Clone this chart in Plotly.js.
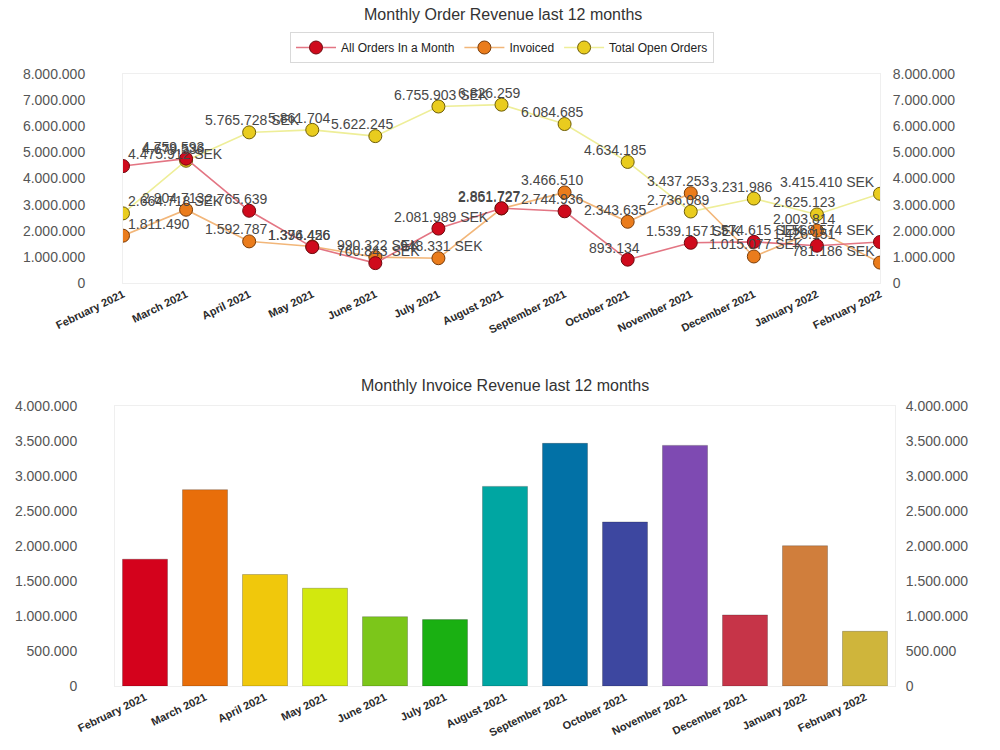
<!DOCTYPE html>
<html>
<head>
<meta charset="utf-8">
<script src="https://cdn.plot.ly/plotly-3.0.1.min.js"></script>
<style>
  html, body { margin: 0; padding: 0; background: #ffffff; }
  #chart { width: 1000px; height: 750px; }
</style>
</head>
<body>
<div id="chart"></div>
<script>
// Months covered by both charts
const months = ['February 2021', 'March 2021', 'April 2021', 'May 2021', 'June 2021', 'July 2021',
  'August 2021', 'September 2021', 'October 2021', 'November 2021', 'December 2021',
  'January 2022', 'February 2022'];

// Order revenue series (SEK)
const allOrders = [4475912, 4759593, 2765639, 1374456, 760843, 2081989, 2861727, 2744936,
  893134, 1539157, 1574615, 1426151, 1568574];
const invoiced = [1811490, 2804713, 1592787, 1396426, 990322, 948331, 2851727, 3466510,
  2343635, 3437253, 1015077, 2003814, 781186];
const openOrders = [2664718, 4679536, 5765728, 5861704, 5622245, 6755903, 6826259, 6084685,
  4634185, 2736089, 3231986, 2625123, 3415410];

// Which value labels carry the currency suffix
const allOrdersUnit = [1, 0, 0, 0, 1, 1, 0, 0, 0, 1, 1, 0, 1];
const invoicedUnit = [0, 0, 0, 0, 1, 1, 0, 0, 0, 0, 1, 0, 1];
const openOrdersUnit = [1, 0, 1, 0, 0, 1, 0, 0, 0, 0, 0, 0, 1];

// Bar colours for the invoice chart, one per month
const barColors = ['#d4021c', '#e86e0a', '#f0c80c', '#d2e80e', '#7cc61a', '#1ab012', '#00a6a2',
  '#0271a6', '#3d47a0', '#7e4ab2', '#c63448', '#d07e3c', '#cfb53b'];

const FONT = 'Liberation Sans, Arial, sans-serif';

function fmt(v) {
  return String(Math.round(v)).replace(/\B(?=(\d{3})+(?!\d))/g, '.');
}

// Listed in legend order; drawn in reverse so the order line sits on top
const series = [
  { name: 'All Orders In a Month', y: allOrders, unit: allOrdersUnit,
    line: '#e37583', fill: '#cf0a1c', edge: '#6e0a10' },
  { name: 'Invoiced', y: invoiced, unit: invoicedUnit,
    line: '#f2b679', fill: '#ea7c1c', edge: '#7a3c08' },
  { name: 'Total Open Orders', y: openOrders, unit: openOrdersUnit,
    line: '#eeee98', fill: '#e9cc1e', edge: '#6e5e08' }
];

const traces = series.slice().reverse().map(s => ({
  type: 'scatter',
  mode: 'lines+markers',
  name: s.name,
  x: months,
  y: s.y,
  xaxis: 'x',
  yaxis: 'y',
  line: { color: s.line, width: 1.6 },
  marker: { color: s.fill, size: 13, line: { color: s.edge, width: 1 } },
  cliponaxis: true
}));

// Duplicate right-hand value axis for the order chart
traces.push({
  type: 'scatter', mode: 'markers', x: [months[0]], y: [0], xaxis: 'x', yaxis: 'y2',
  marker: { opacity: 0 }, showlegend: false, hoverinfo: 'skip'
});

traces.push({
  type: 'bar',
  x: months,
  y: invoiced,
  xaxis: 'x2',
  yaxis: 'y3',
  marker: { color: barColors, line: { color: 'rgba(0,0,0,0.22)', width: 1 } },
  showlegend: false
});
traces.push({
  type: 'scatter', mode: 'markers', x: [months[0]], y: [0], xaxis: 'x2', yaxis: 'y4',
  marker: { opacity: 0 }, showlegend: false, hoverinfo: 'skip'
});

// Value labels above each point of the order chart
const annotations = [];
const last = months.length - 1;
series.forEach(s => {
  s.y.forEach((v, i) => {
    const withUnit = s.unit[i] === 1;
    const a = {
      xref: 'x', yref: 'y', x: months[i], y: v,
      text: fmt(v) + (withUnit ? ' SEK' : ''),
      showarrow: false,
      font: { family: FONT, size: 14, color: '#474747' },
      yanchor: 'middle', yshift: 12,
      xanchor: 'center', xshift: withUnit ? 3 : -13
    };
    if (i === 0) { a.xanchor = 'left'; a.xshift = 3; }
    if (i === last) { a.xanchor = 'right'; a.xshift = -3; }
    annotations.push(a);
  });
});

annotations.push({
  xref: 'paper', yref: 'paper', x: 0.503, y: 1 - 14 / 750, yanchor: 'middle',
  text: 'Monthly Order Revenue last 12 months', showarrow: false,
  font: { family: FONT, size: 16, color: '#333333' }
});
annotations.push({
  xref: 'paper', yref: 'paper', x: 0.505, y: 1 - 385 / 750, yanchor: 'middle',
  text: 'Monthly Invoice Revenue last 12 months', showarrow: false,
  font: { family: FONT, size: 16, color: '#333333' }
});

const yTick = { family: FONT, size: 14, color: '#555555' };
const xTick = { family: FONT, size: 11, color: '#2a2a2a', weight: 'bold' };

const frame = { showline: true, linecolor: '#efefef', linewidth: 1, mirror: true };

const layout = {
  width: 1000, height: 750,
  margin: { l: 0, r: 0, t: 0, b: 0 },
  paper_bgcolor: '#ffffff',
  plot_bgcolor: '#ffffff',
  separators: ',.',
  font: { family: FONT },
  bargap: 0.25,
  showlegend: true,
  legend: {
    orientation: 'h', traceorder: 'reversed',
    x: 0.502, xanchor: 'center', y: 1 - 32 / 750, yanchor: 'top',
    itemwidth: 40,
    bgcolor: '#ffffff', bordercolor: '#d9d9d9', borderwidth: 1,
    font: { family: FONT, size: 12, color: '#222222' }
  },
  xaxis: Object.assign({
    domain: [0.123, 0.88], type: 'category', range: [0, 12],
    tickangle: -26, tickfont: xTick, showgrid: false, zeroline: false,
    ticks: '', automargin: false, anchor: 'y'
  }, frame),
  yaxis: Object.assign({
    domain: [1 - 283 / 750, 1 - 74 / 750], range: [0, 8000000], dtick: 1000000,
    tickformat: ',d', tickfont: yTick, showgrid: false, zeroline: false,
    ticks: 'outside', ticklen: 34, tickcolor: 'rgba(0,0,0,0)', automargin: false, anchor: 'x'
  }, frame),
  yaxis2: {
    overlaying: 'y', side: 'right', anchor: 'x', range: [0, 8000000], dtick: 1000000,
    tickformat: ',d', tickfont: yTick, showgrid: false, zeroline: false,
    ticks: 'outside', ticklen: 9, tickcolor: 'rgba(0,0,0,0)', automargin: false
  },
  xaxis2: Object.assign({
    domain: [0.115, 0.895], type: 'category', range: [-0.5, 12.5],
    tickangle: -26, tickfont: xTick, showgrid: false, zeroline: false,
    ticks: '', automargin: false, anchor: 'y3'
  }, frame),
  yaxis3: Object.assign({
    domain: [1 - 686 / 750, 1 - 406 / 750], range: [0, 4000000], dtick: 500000,
    tickformat: ',d', tickfont: yTick, showgrid: false, zeroline: false,
    ticks: 'outside', ticklen: 34, tickcolor: 'rgba(0,0,0,0)', automargin: false, anchor: 'x2'
  }, frame),
  yaxis4: {
    overlaying: 'y3', side: 'right', anchor: 'x2', range: [0, 4000000], dtick: 500000,
    tickformat: ',d', tickfont: yTick, showgrid: false, zeroline: false,
    ticks: 'outside', ticklen: 7, tickcolor: 'rgba(0,0,0,0)', automargin: false
  },
  annotations: annotations
};

Plotly.newPlot('chart', traces, layout, { displayModeBar: false, staticPlot: true });
</script>
</body>
</html>
